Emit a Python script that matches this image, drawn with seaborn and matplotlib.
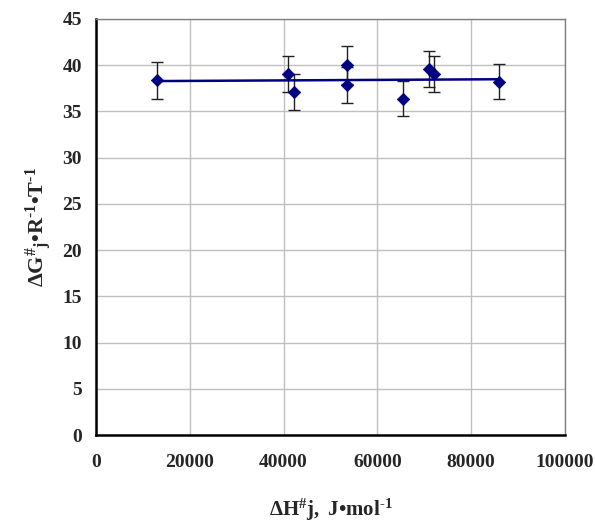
import numpy as np
import pandas as pd
import matplotlib
matplotlib.use("Agg")
import matplotlib.pyplot as plt
import seaborn as sns

# data
dH = [12900, 40900, 42200, 53500, 53500, 65500, 71000, 72000, 85900]
dG = [38.35, 39.05, 37.1, 40.05, 37.85, 36.4, 39.55, 39.05, 38.2]
err = [1.95, 1.95, 1.9, 2.05, 1.95, 1.85, 1.95, 1.95, 1.9]

df = pd.DataFrame({"dH": dH, "dG": dG, "err": err})

sns.set_style("white")
plt.rcParams["font.family"] = ["Liberation Serif", "DejaVu Serif"]
plt.rcParams["font.weight"] = "bold"
plt.rcParams["mathtext.fontset"] = "custom"
plt.rcParams["mathtext.rm"] = "Liberation Serif:bold"
plt.rcParams["mathtext.bf"] = "Liberation Serif:bold"
plt.rcParams["mathtext.it"] = "Liberation Serif:bold"
plt.rcParams["mathtext.default"] = "bf"

fig = plt.figure(figsize=(5.95, 5.26), dpi=100)
ax = fig.add_axes([96 / 595, 1 - 435 / 526, 469 / 595, 416 / 526])

# error bars
ax.errorbar(df["dH"], df["dG"], yerr=df["err"], fmt="none",
            ecolor="#202020", elinewidth=1, capsize=4.5, capthick=1, zorder=2)

# trend line
sns.regplot(data=df, x="dH", y="dG", ax=ax, ci=None, scatter=False,
            line_kws={"color": "#000080", "lw": 1.8, "zorder": 3})

# points
sns.scatterplot(data=df, x="dH", y="dG", ax=ax, marker="D", s=40,
                color="#000080", edgecolor="#000080", linewidth=0.5, zorder=4)

ax.set_xlim(0, 100000)
ax.set_ylim(0, 45)
ax.set_xticks(np.arange(0, 100001, 20000))
ax.set_yticks(np.arange(0, 46, 5))
ax.grid(True, color="#c0c0c0", lw=1)
ax.set_axisbelow(True)

for side in ["top", "right"]:
    ax.spines[side].set_color("#808080")
    ax.spines[side].set_linewidth(1)
for side in ["left", "bottom"]:
    ax.spines[side].set_color("black")
    ax.spines[side].set_linewidth(1.8)

ax.tick_params(axis="both", direction="out", length=5, width=1.5,
               color="black", labelsize=14, pad=5)
ax.tick_params(axis="x", pad=9)
for lab in ax.get_xticklabels() + ax.get_yticklabels():
    lab.set_fontweight("bold")

ax.set_xlabel("$\u0394H^{\\#}j,\\ J\u2022mol^{\u20101}$", fontsize=15, labelpad=18)
ax.set_ylabel("$\u0394G^{\\#}{}_{j}\u2022R^{\u20101}\u2022T^{\u20101}$", fontsize=16, labelpad=6)

fig.savefig("out.png", dpi=100)
